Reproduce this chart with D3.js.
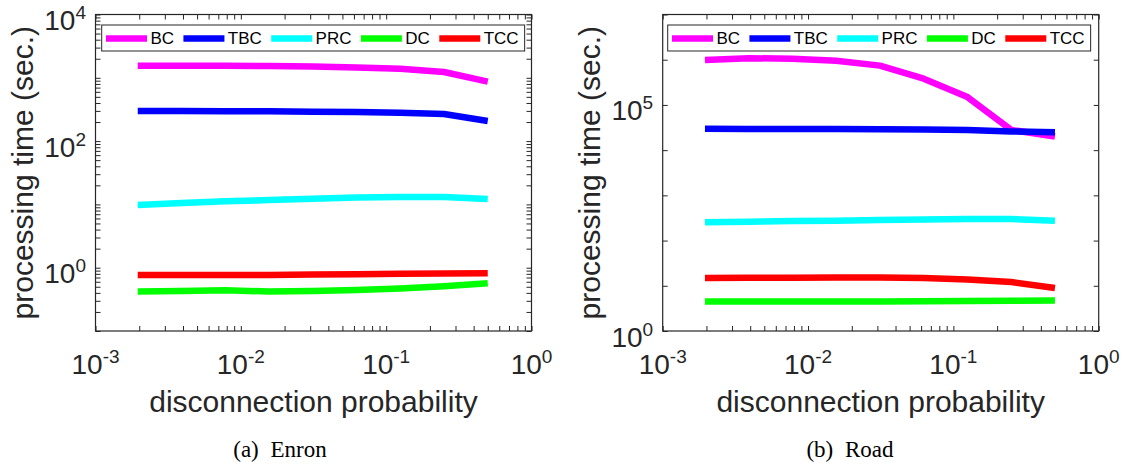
<!DOCTYPE html>
<html>
<head>
<meta charset="utf-8">
<script src="https://cdn.jsdelivr.net/npm/d3@7"></script>
<style>
  body { margin: 0; background: #fff; }
  svg { display: block; }
</style>
</head>
<body>
<svg id="chart" width="1129" height="469"></svg>
<script>
// disconnection probability: 2^-9 ... 2^-1
const probs = [1/512, 1/256, 1/128, 1/64, 1/32, 1/16, 1/8, 1/4, 1/2];

const seriesNames = ["BC", "TBC", "PRC", "DC", "TCC"];
const seriesColors = ["#ff00ff", "#0000ff", "#00ffff", "#00ff00", "#ff0000"];

// (a) Enron, processing time in seconds
const enronBC  = [1550, 1550, 1550, 1535, 1515, 1460, 1390, 1235, 870];
const enronTBC = [299, 299, 296, 296, 292, 288, 281, 268, 208];
const enronPRC = [9.8, 10.5, 11.2, 11.7, 12.3, 12.8, 13.1, 13.1, 12.2];
const enronDC  = [0.42, 0.43, 0.44, 0.42, 0.43, 0.445, 0.47, 0.51, 0.57];
const enronTCC = [0.77, 0.77, 0.77, 0.77, 0.78, 0.79, 0.80, 0.81, 0.82];

// (b) Road
const roadBC  = [986000, 1080000, 1050000, 950000, 740000, 380000, 149000, 28000, 20000];
const roadTBC = [29600, 29500, 29400, 29300, 29000, 28500, 27800, 26000, 25000];
const roadPRC = [254, 262, 271, 276, 285, 291, 300, 300, 276];
const roadDC  = [4.5, 4.5, 4.5, 4.5, 4.5, 4.55, 4.6, 4.65, 4.7];
const roadTCC = [14.8, 15.0, 15.0, 15.3, 15.3, 14.8, 13.8, 12.1, 8.9];

// tick labels, as exponents of ten
const xTickExps = [-3, -2, -1, 0];
const enronYTickExps = [0, 2, 4];
const roadYTickExps = [0, 5];

const svg = d3.select("#chart");
const axisColor = "#262626";
const sans = "'Liberation Sans', Arial, Helvetica, sans-serif";
const plotTop = 14.5, plotW = 436, plotH = 316.5;

function powLabel(t, e) {
    t.append("tspan").text("10");
    t.append("tspan").attr("dy", -11).attr("font-size", 19).text(e);
}

function drawPanel(p) {
    const g = svg.append("g").attr("transform", `translate(${p.left},${plotTop})`);

    const x = d3.scaleLog().domain([1e-3, 1]).range([0, plotW]);
    const y = d3.scaleLog().domain(p.yDomain).range([plotH, 0]);

    const xt = x.ticks();                         // majors + 2..9 minors
    const yt = p.yMinor ? y.ticks() : d3.range(0, 8).map(e => Math.pow(10, e));

    // lines
    const line = d3.line().x(d => x(d[0])).y(d => y(d[1]));
    p.series.forEach((vals, i) => {
        g.append("path")
            .datum(probs.map((v, j) => [v, vals[j]]))
            .attr("d", line)
            .attr("fill", "none")
            .attr("stroke", seriesColors[i])
            .attr("stroke-width", 6.5)
            .attr("stroke-linejoin", "round");
    });

    // inward ticks on all four sides
    const tickStyle = a => { a.select(".domain").remove(); a.attr("color", axisColor); a.selectAll("line").attr("stroke-width", 1); };
    g.append("g").attr("transform", `translate(0,${plotH})`)
        .call(d3.axisBottom(x).tickValues(xt).tickSize(-5).tickFormat("")).call(tickStyle);
    g.append("g")
        .call(d3.axisTop(x).tickValues(xt).tickSize(-5).tickFormat("")).call(tickStyle);
    g.append("g")
        .call(d3.axisLeft(y).tickValues(yt).tickSize(-5).tickFormat("")).call(tickStyle);
    g.append("g").attr("transform", `translate(${plotW},0)`)
        .call(d3.axisRight(y).tickValues(yt).tickSize(-5).tickFormat("")).call(tickStyle);

    g.append("rect")
        .attr("width", plotW).attr("height", plotH)
        .attr("fill", "none").attr("stroke", axisColor).attr("stroke-width", 1.2);

    // tick labels
    xTickExps.forEach(e => {
        g.append("text")
            .attr("x", x(Math.pow(10, e))).attr("y", plotH + 42.5)
            .attr("text-anchor", "middle")
            .attr("font-family", sans).attr("font-size", 28).attr("fill", axisColor)
            .call(t => powLabel(t, e));
    });
    p.yTickExps.forEach(e => {
        g.append("text")
            .attr("x", -9.5).attr("y", y(Math.pow(10, e)) + 15.5)
            .attr("text-anchor", "end")
            .attr("font-family", sans).attr("font-size", 28).attr("fill", axisColor)
            .call(t => powLabel(t, e));
    });

    // axis titles
    g.append("text")
        .attr("x", plotW / 2).attr("y", plotH + 81)
        .attr("text-anchor", "middle")
        .attr("font-family", sans).attr("font-size", 30).attr("fill", axisColor)
        .text("disconnection probability");
    g.append("text")
        .attr("transform", `translate(-63,${plotH / 2}) rotate(-90)`)
        .attr("text-anchor", "middle")
        .attr("font-family", sans).attr("font-size", 30).attr("fill", axisColor)
        .text("processing time (sec.)");

    // legend
    const lg = svg.append("g").attr("transform", `translate(${p.legendLeft},25)`);
    const box = lg.append("rect");
    let cx = 4.3;
    seriesNames.forEach((name, i) => {
        lg.append("line")
            .attr("x1", cx).attr("x2", cx + 41).attr("y1", 13.5).attr("y2", 13.5)
            .attr("stroke", seriesColors[i]).attr("stroke-width", 6.5);
        const t = lg.append("text")
            .attr("x", cx + 44.4).attr("y", 19.2)
            .attr("font-family", sans).attr("font-size", 17).attr("fill", "#000")
            .text(name);
        cx += 44.4 + t.node().getComputedTextLength() + 9.4;
    });
    box.attr("width", cx - 9.4 + 6).attr("height", 26)
        .attr("fill", "#fff").attr("stroke", axisColor).attr("stroke-width", 1);

    // sub-caption
    const cap = svg.append("text")
        .attr("x", p.captionX).attr("y", 457)
        .attr("text-anchor", "middle")
        .attr("font-family", "'Liberation Serif', 'Times New Roman', serif")
        .attr("font-size", 23).attr("fill", "#000");
    cap.append("tspan").text(p.tag);
    cap.append("tspan").attr("dx", 6).text(" " + p.name);
}

drawPanel({
    left: 95.5, legendLeft: 101.7, captionX: 280,
    tag: "(a)", name: "Enron",
    yDomain: [0.1, 1e4], yMinor: true, yTickExps: enronYTickExps,
    series: [enronBC, enronTBC, enronPRC, enronDC, enronTCC]
});
drawPanel({
    left: 662.7, legendLeft: 667.7, captionX: 850,
    tag: "(b)", name: "Road",
    yDomain: [1, 1e7], yMinor: false, yTickExps: roadYTickExps,
    series: [roadBC, roadTBC, roadPRC, roadDC, roadTCC]
});
</script>
</body>
</html>
